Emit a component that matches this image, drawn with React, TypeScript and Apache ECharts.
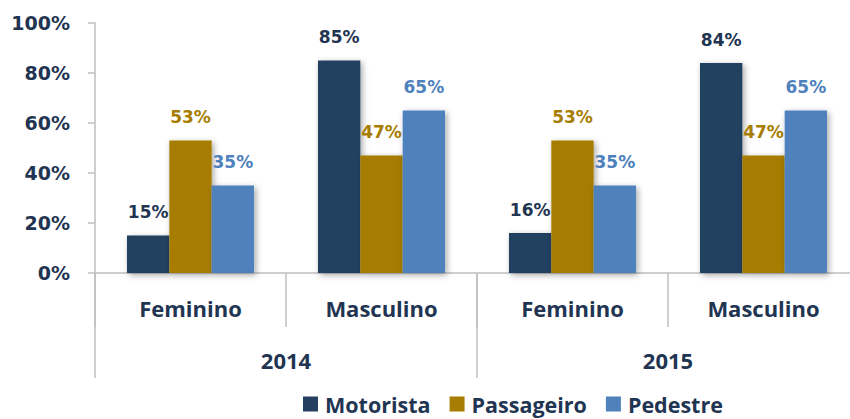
import React, { useEffect, useRef } from "react";
import * as echarts from "echarts";

const categories = ["Feminino", "Masculino", "Feminino", "Masculino"];
const years = ["2014", "2015"];
const yTicks = [0, 20, 40, 60, 80, 100];
const motorista = [15, 85, 16, 84];
const passageiro = [53, 47, 53, 47];
const pedestre = [35, 65, 35, 65];

const COLORS = {
  motorista: "#243F60",
  passageiro: "#A67D00",
  pedestre: "#4F81BD",
};
const TEXT = "#1F3552";
const AXIS = "#BFBFBF";
const CAT_FONT = "'Open Sans', 'Noto Sans', sans-serif";
const NUM_FONT = "'DejaVu Sans', Verdana, sans-serif";

export default function App() {
  const ref = useRef<HTMLDivElement>(null);
  useEffect(() => {
    if (!ref.current) return;
    const chart = echarts.init(ref.current, undefined, { renderer: "svg" });
    const mkSeries = (name: string, data: number[], color: string) => ({
      name,
      type: "bar",
      data,
      barGap: "0%",
      barCategoryGap: "33.5%",
      itemStyle: {
        color,
        shadowBlur: 6,
        shadowColor: "rgba(0,0,0,0.35)",
        shadowOffsetX: 2,
        shadowOffsetY: 2,
      },
      label: {
        show: true,
        position: "top",
        distance: 15,
        formatter: "{c}%",
        color: color === COLORS.motorista ? TEXT : color,
        fontFamily: NUM_FONT,
        fontWeight: "bold",
        fontSize: 17,
      },
    });
    chart.setOption({
      animation: false,
      grid: { left: 95, top: 23, width: 764, height: 250 },
      legend: {
        data: ["Motorista", "Passageiro", "Pedestre"],
        left: 298,
        top: 388,
        icon: "rect",
        itemWidth: 15,
        itemHeight: 15,
        itemGap: 19,
        textStyle: {
          fontFamily: CAT_FONT,
          fontWeight: "bold",
          fontSize: 21.5,
          color: TEXT,
          padding: [0, 0, 0, 2],
        },
      },
      xAxis: [
        {
          type: "category",
          data: categories,
          position: "bottom",
          axisLine: { show: true, lineStyle: { color: AXIS, width: 1.5 } },
          axisTick: { show: true, length: 54, lineStyle: { color: AXIS, width: 1.5 } },
          axisLabel: {
            margin: 24,
            fontFamily: CAT_FONT,
            fontWeight: "bold",
            fontSize: 22,
            color: TEXT,
          },
        },
        {
          type: "category",
          data: years,
          position: "bottom",
          axisLine: { show: false },
          axisTick: { show: true, length: 105, lineStyle: { color: AXIS, width: 1.5 } },
          axisLabel: {
            margin: 76,
            fontFamily: CAT_FONT,
            fontWeight: "bold",
            fontSize: 22,
            color: TEXT,
          },
        },
      ],
      yAxis: {
        type: "value",
        min: 0,
        max: 100,
        interval: 20,
        axisLine: { show: true, lineStyle: { color: AXIS, width: 1.5 } },
        axisTick: { show: true, length: 7, lineStyle: { color: AXIS, width: 1.5 } },
        splitLine: { show: false },
        axisLabel: {
          margin: 25,
          formatter: (v: number) => (yTicks.includes(v) ? v + "%" : ""),
          fontFamily: NUM_FONT,
          fontWeight: "bold",
          fontSize: 19,
          color: TEXT,
        },
      },
      series: [
        mkSeries("Motorista", motorista, COLORS.motorista),
        mkSeries("Passageiro", passageiro, COLORS.passageiro),
        mkSeries("Pedestre", pedestre, COLORS.pedestre),
      ],
    });
    return () => chart.dispose();
  }, []);
  return (
    <div
      style={{
        position: "fixed",
        left: 0,
        top: 0,
        width: 850,
        height: 419,
        overflow: "hidden",
        background: "#fff",
      }}
    >
      <div ref={ref} style={{ width: 870, height: 419 }} />
    </div>
  );
}
